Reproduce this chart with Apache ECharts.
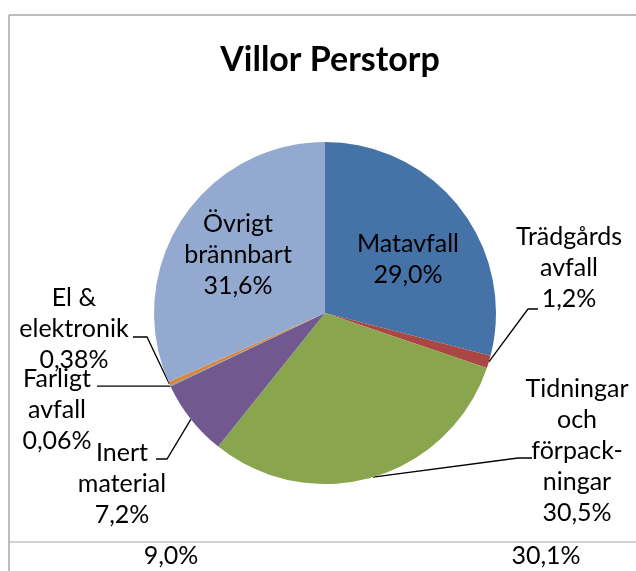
<!DOCTYPE html>
<html>
<head>
<meta charset="utf-8">
<script src="https://cdn.jsdelivr.net/npm/echarts@6/dist/echarts.min.js"></script>
<style>
  html, body { margin: 0; padding: 0; background: #fff; }
  #chart { width: 636px; height: 571px; }
</style>
</head>
<body>
<div id="chart"></div>
<script>
// kategorier (radbrytning som i originalet)
var categories = ['Matavfall', 'Trädgårds\navfall', 'Tidningar\noch\nförpack-\nningar',
  'Inert\nmaterial', 'Farligt\navfall', 'El &\nelektronik', 'Övrigt\nbrännbart'];
// andel i procent
var shares = [29.0, 1.2, 30.5, 7.2, 0.06, 0.38, 31.6];
var colors = ['#4572A7', '#AA4643', '#89A54E', '#71588F', '#4198AF', '#DB843D', '#93A9CF'];
// tabellraden under diagrammet
var tableValues = [9.0, 30.1];

function fmt(v) {
  return v.toFixed(v < 1 ? 2 : 1).replace('.', ',') + '%';
}

// etikettplacering: mitt på texten + knäck och slut på hänvisningslinjen
var labelPos = [
  { x: 408, y: 259 },
  { x: 569, y: 268, bend: [528, 309], end: [538, 309] },
  { x: 577, y: 451, bend: [518, 458], end: [532, 458] },
  { x: 122, y: 484, bend: [167, 459], end: [156, 459] },
  { x: 57, y: 410, bend: [120, null], end: [97, null] },
  { x: 74, y: 329, bend: [147, 337], end: [133, 337] },
  { x: 238, y: 255 }
];

var chart = echarts.init(document.getElementById('chart'));

var data = categories.map(function (name, i) {
  var inside = !labelPos[i].bend;
  return {
    name: name,
    value: shares[i],
    itemStyle: { color: colors[i] },
    label: { position: inside ? 'inside' : 'outside' },
    labelLine: { show: !inside }
  };
});

var option = {
  backgroundColor: '#fff',
  title: {
    text: 'Villor Perstorp',
    left: 325,
    top: 38,
    textAlign: 'center',
    textStyle: {
      fontFamily: 'Lato',
      fontWeight: 'bold',
      fontSize: 34,
      color: '#000'
    }
  },
  graphic: [
    { type: 'line', shape: { x1: 9, y1: 15, x2: 636, y2: 15 }, style: { stroke: '#a6a6a6', lineWidth: 1.5 } },
    { type: 'line', shape: { x1: 9, y1: 15, x2: 9, y2: 571 }, style: { stroke: '#a6a6a6', lineWidth: 1.5 } },
    { type: 'line', shape: { x1: 9, y1: 542, x2: 636, y2: 542 }, style: { stroke: '#a6a6a6', lineWidth: 1 } },
    { type: 'text', x: 171, y: 556, style: { text: fmt(tableValues[0]), font: '25px Lato', fill: '#000', textAlign: 'center', textVerticalAlign: 'middle' } },
    { type: 'text', x: 546, y: 556, style: { text: fmt(tableValues[1]), font: '25px Lato', fill: '#000', textAlign: 'center', textVerticalAlign: 'middle' } }
  ],
  series: [{
    type: 'pie',
    center: [325, 313],
    radius: 171,
    startAngle: 90,
    clockwise: true,
    avoidLabelOverlap: false,
    animation: false,
    itemStyle: { borderWidth: 0 },
    label: {
      show: true,
      color: '#000',
      fontFamily: 'Lato',
      fontSize: 25,
      lineHeight: 31,
      align: 'center',
      formatter: function (p) {
        return p.name + '\n' + fmt(p.value);
      }
    },
    labelLine: {
      lineStyle: { color: '#000', width: 1.3 }
    },
    labelLayout: function (params) {
      var p = labelPos[params.dataIndex];
      var res = { x: p.x, y: p.y, align: 'center', verticalAlign: 'middle' };
      if (p.bend && params.labelLinePoints) {
        var s = params.labelLinePoints[0];
        var by = p.bend[1] == null ? s[1] : p.bend[1];
        var ey = p.end[1] == null ? s[1] : p.end[1];
        res.labelLinePoints = [[s[0], s[1]], [p.bend[0], by], [p.end[0], ey]];
      }
      return res;
    },
    data: data
  }]
};

chart.setOption(option);
</script>
</body>
</html>
